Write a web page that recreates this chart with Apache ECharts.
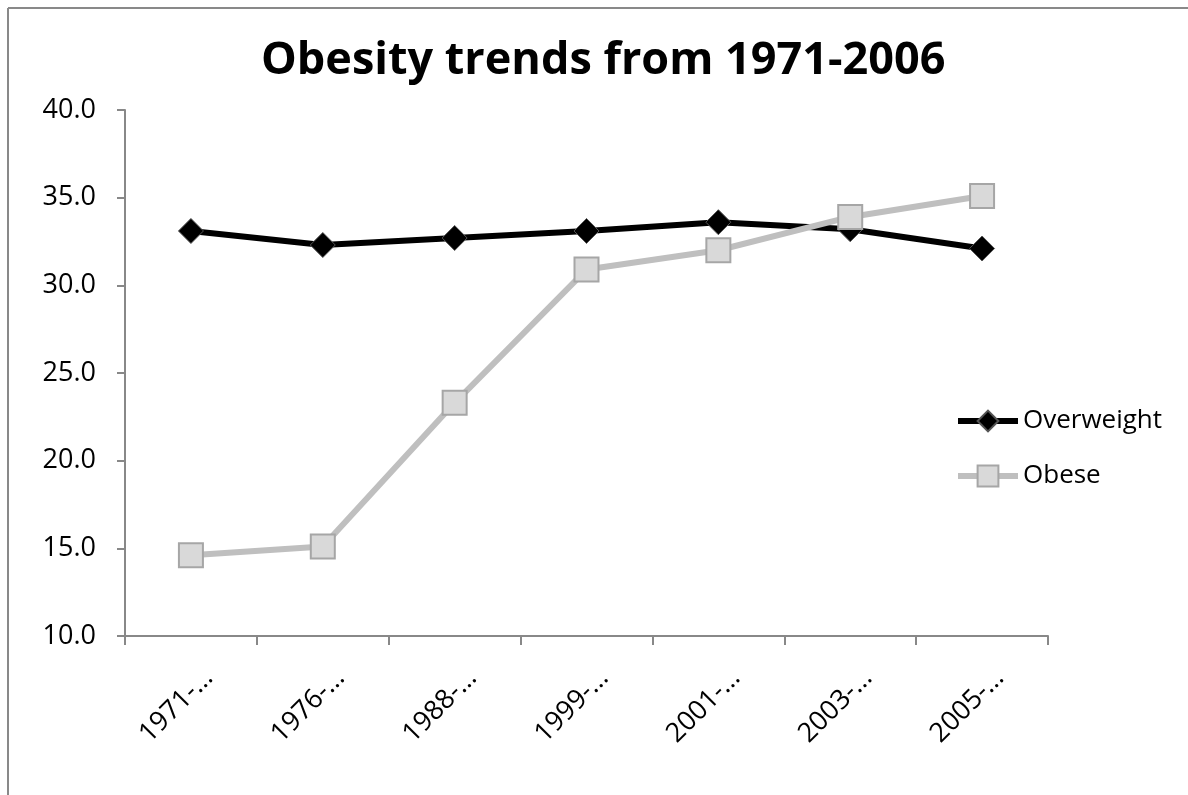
<!DOCTYPE html>
<html>
<head>
    <meta charset="utf-8">
    <title>Obesity trends</title>
    <style>
        body { margin: 0; padding: 0; background: #fff; }
        #chart { width: 1188px; height: 795px; }
    </style>
</head>
<body>
    <div id="chart"></div>
    <script src="https://cdn.jsdelivr.net/npm/echarts@6/dist/echarts.min.js"></script>
    <script>
        var categories = ['1971-1974', '1976-1980', '1988-1994', '1999-2000', '2001-2002', '2003-2004', '2005-2006'];
        var overweight = [33.1, 32.3, 32.7, 33.1, 33.6, 33.2, 32.1];
        var obese = [14.6, 15.1, 23.3, 30.9, 32.0, 33.9, 35.1];
        var yTicks = { min: 10, max: 40, interval: 5 };

        var chart = echarts.init(document.getElementById('chart'));
        var labelFont = '"Open Sans", "Noto Sans", sans-serif';

        var option = {
            backgroundColor: '#fff',
            animation: false,
            title: {
                text: 'Obesity trends from 1971-2006',
                left: 256,
                top: 34,
                textStyle: {
                    fontFamily: labelFont,
                    fontWeight: 'bold',
                    fontSize: 45,
                    color: '#000'
                }
            },
            graphic: [
                { type: 'line', shape: { x1: 8, y1: 8, x2: 8, y2: 795 }, style: { stroke: '#898989', lineWidth: 2 } },
                { type: 'line', shape: { x1: 8, y1: 8, x2: 1188, y2: 8 }, style: { stroke: '#898989', lineWidth: 2 } }
            ],
            legend: {
                orient: 'vertical',
                left: 955,
                top: 408,
                itemWidth: 60,
                itemHeight: 26,
                itemGap: 29,
                padding: 0,
                lineStyle: { width: 6 },
                textStyle: { fontFamily: labelFont, fontSize: 26, color: '#000' },
                data: ['Overweight', 'Obese']
            },
            grid: { left: 125, right: 140, top: 110, bottom: 159 },
            xAxis: {
                type: 'category',
                data: categories,
                axisLine: { lineStyle: { color: '#888', width: 2 } },
                axisTick: { show: true, length: 9, lineStyle: { color: '#888', width: 2 } },
                axisLabel: {
                    rotate: 45,
                    margin: 20,
                    color: '#000',
                    fontFamily: labelFont,
                    fontSize: 27,
                    verticalAlign: 'top',
                    lineHeight: 50,
                    formatter: function (v) { return v.slice(0, 5) + '…'; }
                }
            },
            yAxis: {
                type: 'value',
                min: yTicks.min,
                max: yTicks.max,
                interval: yTicks.interval,
                splitLine: { show: false },
                axisLine: { show: true, lineStyle: { color: '#888', width: 2 } },
                axisTick: { show: true, length: 8, lineStyle: { color: '#888', width: 2 } },
                axisLabel: {
                    margin: 29,
                    color: '#000',
                    fontFamily: labelFont,
                    fontSize: 27,
                    formatter: function (v) { return v.toFixed(1); }
                }
            },
            series: [
                {
                    name: 'Overweight',
                    type: 'line',
                    data: overweight,
                    symbol: 'diamond',
                    symbolSize: 25,
                    lineStyle: { color: '#000', width: 6 },
                    itemStyle: { color: '#000', borderColor: '#555', borderWidth: 1 },
                    z: 2
                },
                {
                    name: 'Obese',
                    type: 'line',
                    data: obese,
                    symbol: 'rect',
                    symbolSize: 24,
                    lineStyle: { color: '#bfbfbf', width: 6 },
                    itemStyle: { color: '#d9d9d9', borderColor: '#a6a6a6', borderWidth: 2 },
                    z: 3
                }
            ]
        };

        chart.setOption(option);
    </script>
</body>
</html>
